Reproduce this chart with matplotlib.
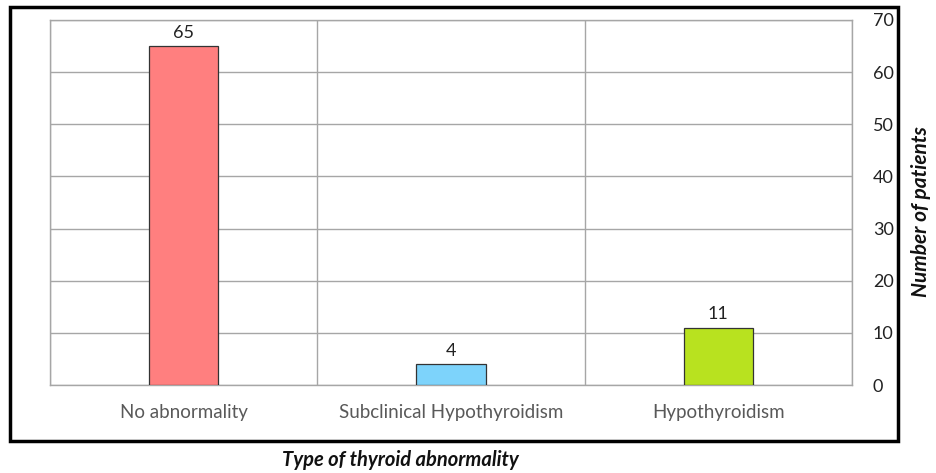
import matplotlib
matplotlib.use("Agg")
import matplotlib.pyplot as plt
from matplotlib.patches import Rectangle
import numpy as np

categories = ["No abnormality", "Subclinical Hypothyroidism", "Hypothyroidism"]
patients = [65, 4, 11]
bar_colors = ["#ff7f7f", "#7dd3fb", "#b8e21f"]
y_ticks = [0, 10, 20, 30, 40, 50, 60, 70]

plt.rcParams["font.family"] = ["Lato", "DejaVu Sans"]

W, H = 937, 473
fig = plt.figure(figsize=(W / 100, H / 100), dpi=100)
fig.patch.set_facecolor("white")

# plot area in pixel coordinates
x0, x1 = 50, 852
y_top, y_bot = 20, 385
ax = fig.add_axes([x0 / W, 1 - y_bot / H, (x1 - x0) / W, (y_bot - y_top) / H])

x = np.arange(len(categories))
ax.bar(x, patients, width=0.26, color=bar_colors, edgecolor="#333333",
       linewidth=0.9, zorder=3)
for xi, v in zip(x, patients):
    ax.text(xi, v + 1.0, str(v), ha="center", va="bottom", fontsize=13,
            color="#222222")

ax.set_xlim(-0.5, len(categories) - 0.5)
ax.set_ylim(0, 70)
ax.set_yticks(y_ticks)
ax.yaxis.tick_right()
ax.tick_params(axis="y", length=0, pad=15, labelsize=13, labelcolor="#222222")
ax.set_xticks(x)
ax.set_xticklabels(categories)
ax.tick_params(axis="x", length=0, pad=14, labelsize=13.5, labelcolor="#595959")

# horizontal gridlines and category separators
ax.grid(axis="y", color="#a6a6a6", linewidth=1.0, zorder=0)
for b in np.arange(-0.5, len(categories), 1.0):
    ax.axvline(b, color="#a6a6a6", linewidth=1.0, zorder=0)
for s in ax.spines.values():
    s.set_color("#a6a6a6")
    s.set_linewidth(1.0)

# outer frame around the chart
fx0, fx1, fy0, fy1 = 10, 898, 7, 441
fig.add_artist(Rectangle((fx0 / W, 1 - fy1 / H), (fx1 - fx0) / W, (fy1 - fy0) / H,
                         transform=fig.transFigure, fill=False,
                         edgecolor="black", linewidth=2.5))

fig.text(921 / W, 1 - 212 / H, "Number of patients", rotation=90,
         ha="center", va="center", fontsize=15, fontweight="bold",
         fontstyle="italic", color="#111111")
fig.text(400 / W, 1 - 460 / H, "Type of thyroid abnormality",
         ha="center", va="center", fontsize=14.5, fontweight="bold",
         fontstyle="italic", color="#111111")

fig.savefig("out.png", dpi=100, facecolor="white")
